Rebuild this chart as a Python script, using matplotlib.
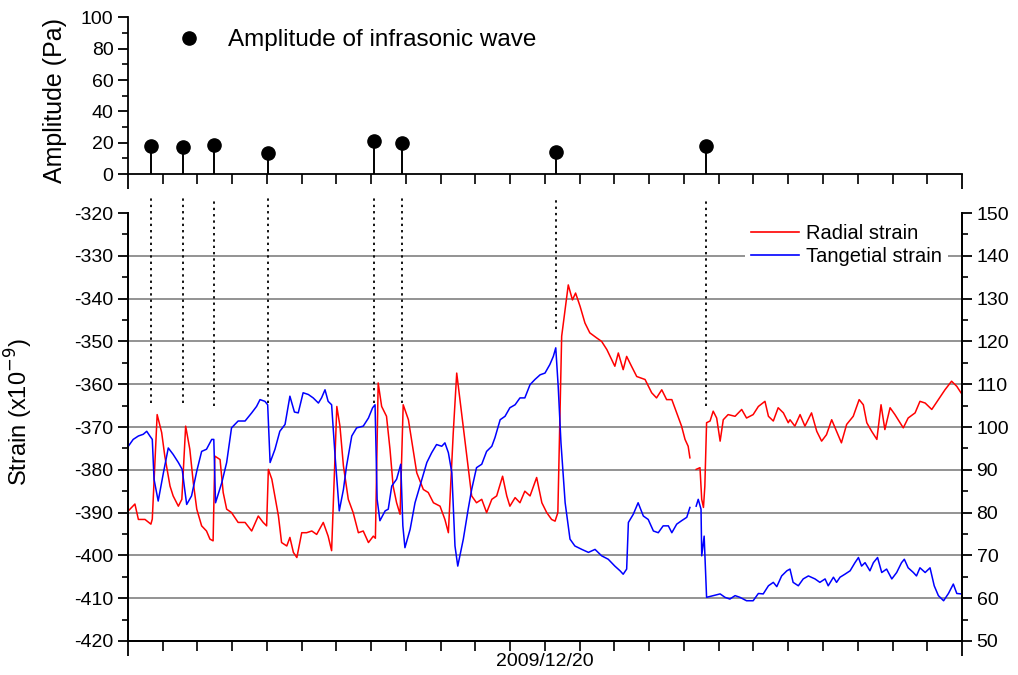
import numpy as np
import matplotlib
matplotlib.use("Agg")
import matplotlib.pyplot as plt
from matplotlib.lines import Line2D
from matplotlib.ticker import MultipleLocator, FixedLocator, FuncFormatter

plt.rcParams['font.family'] = ['Liberation Sans', 'DejaVu Sans']
plt.rcParams['axes.unicode_minus'] = False

# infrasound events (hours from start of record) and amplitudes in Pa
event_t = [0.66, 1.58, 2.47, 4.03, 7.08, 7.88, 12.32, 16.63]
event_amp = [18, 17.5, 18.5, 13.5, 21, 20, 14, 18]
# lower end of the dotted event markers in the strain panel
event_mark_end = [-364.5, -364.5, -365, -364.5, -364.5, -364.5, -347, -365]

# radial strain (left axis, x1e-9)
t_red = [0.01, 0.20, 0.30, 0.49, 0.66, 0.70, 0.84, 0.97, 1.06, 1.21, 1.30, 1.45, 1.55,
         1.66, 1.78, 1.88, 1.98, 2.12, 2.26, 2.36, 2.45, 2.50, 2.65, 2.74, 2.84, 2.98,
         3.17, 3.37, 3.56, 3.75, 3.89, 3.99, 4.04, 4.14, 4.33, 4.42, 4.57, 4.66, 4.76,
         4.86, 5.00, 5.14, 5.29, 5.43, 5.62, 5.76, 5.86, 6.01, 6.10, 6.20, 6.34, 6.48,
         6.63, 6.77, 6.92, 7.06, 7.12, 7.20, 7.30, 7.44, 7.54, 7.63, 7.73, 7.83, 7.92,
         8.07, 8.16, 8.31, 8.50, 8.64, 8.79, 8.98, 9.12, 9.22, 9.36, 9.46, 9.60, 9.75,
         9.89, 10.03, 10.18, 10.32, 10.47, 10.61, 10.78, 10.90, 10.99, 11.14, 11.28,
         11.42, 11.57, 11.76, 11.91, 12.05, 12.19, 12.29, 12.37, 12.48, 12.67, 12.79,
         12.88, 13.01, 13.15, 13.29, 13.49, 13.63, 13.78, 13.92, 14.01, 14.11, 14.25,
         14.35, 14.49, 14.64, 14.88, 15.07, 15.21, 15.36, 15.50, 15.65, 15.79, 15.93,
         16.03, 16.12, 16.17, 16.25, 16.35, 16.46, 16.51, 16.56, 16.60, 16.65, 16.75,
         16.84, 16.94, 17.04, 17.13, 17.27, 17.47, 17.66, 17.80, 17.99, 18.14, 18.33,
         18.43, 18.57, 18.71, 18.86, 19.00, 19.05, 19.19, 19.34, 19.48, 19.67, 19.82,
         19.96, 20.10, 20.25, 20.39, 20.53, 20.68, 20.87, 21.04, 21.16, 21.26, 21.40,
         21.55, 21.67, 21.78, 21.93, 22.07, 22.31, 22.45, 22.65, 22.79, 22.94, 23.13,
         23.32, 23.51, 23.70, 23.85, 23.97]
radial = [-389.6, -388.0, -391.6, -391.6, -392.7, -391.5, -367.1, -371.3, -376.8, -383.8,
          -386.1, -388.5, -386.9, -369.8, -375.2, -383.0, -389.2, -393.1, -394.3, -396.2,
          -396.6, -376.8, -377.6, -385.3, -389.2, -390.0, -392.3, -392.3, -394.3, -390.8,
          -392.3, -393.1, -379.9, -382.2, -390.8, -397.0, -397.8, -395.8, -399.3, -400.5,
          -394.7, -394.7, -394.3, -395.1, -392.3, -395.5, -398.9, -365.2, -369.8, -379.1,
          -386.9, -390.0, -394.7, -394.3, -397.0, -395.5, -396.0, -359.7, -365.2, -367.5,
          -375.2, -383.8, -387.7, -390.4, -364.8, -368.3, -372.9, -380.7, -384.6, -385.3,
          -387.7, -388.5, -391.6, -394.7, -371.4, -357.4, -366.7, -376.8, -386.1, -387.7,
          -386.9, -390.0, -386.9, -386.1, -381.5, -386.1, -388.5, -386.5, -387.7, -385.0,
          -386.1, -381.8, -387.7, -390.0, -391.6, -392.0, -390.0, -348.8, -336.8, -340.3,
          -338.7, -341.8, -345.7, -348.0, -349.2, -350.0, -351.9, -354.3, -355.8, -352.7,
          -356.6, -353.5, -355.8, -358.2, -358.9, -362.0, -363.2, -361.3, -363.6, -363.6,
          -366.7, -369.8, -372.9, -374.5, -377.2, np.nan, -379.9, -379.5, -386.9, -388.8,
          -383.8, -369.0, -368.6, -366.3, -367.9, -373.3, -368.3, -367.1, -367.5, -365.9,
          -367.9, -367.1, -365.2, -364.0, -367.5, -368.6, -365.5, -366.7, -369.0, -368.3,
          -369.8, -367.1, -369.8, -366.7, -371.0, -373.3, -371.8, -368.3, -371.0, -373.7,
          -369.4, -367.5, -363.6, -364.8, -369.0, -371.0, -372.9, -364.8, -370.6, -365.5,
          -367.1, -370.2, -367.9, -366.7, -364.0, -364.4, -365.9, -363.6, -361.3, -359.3,
          -360.5, -362.0]

# tangential strain (right axis)
t_blue = [0.01, 0.15, 0.30, 0.44, 0.54, 0.63, 0.70, 0.75, 0.87, 1.02, 1.16, 1.30, 1.45,
          1.56, 1.62, 1.69, 1.83, 1.98, 2.12, 2.26, 2.41, 2.47, 2.52, 2.70, 2.84, 2.98,
          3.17, 3.37, 3.56, 3.70, 3.80, 3.94, 4.02, 4.09, 4.23, 4.37, 4.52, 4.66, 4.79,
          4.90, 5.04, 5.19, 5.33, 5.48, 5.57, 5.67, 5.76, 5.86, 5.96, 6.08, 6.20, 6.29,
          6.44, 6.58, 6.77, 6.92, 7.04, 7.11, 7.17, 7.25, 7.40, 7.49, 7.59, 7.73, 7.85,
          7.91, 7.97, 8.12, 8.26, 8.40, 8.60, 8.74, 8.88, 9.03, 9.12, 9.22, 9.32, 9.41,
          9.49, 9.65, 9.79, 9.89, 10.03, 10.18, 10.32, 10.47, 10.56, 10.71, 10.85, 10.99,
          11.14, 11.28, 11.42, 11.57, 11.71, 11.86, 12.00, 12.14, 12.24, 12.31, 12.38,
          12.46, 12.58, 12.72, 12.86, 13.06, 13.25, 13.44, 13.63, 13.82, 14.01, 14.16,
          14.25, 14.35, 14.40, 14.54, 14.68, 14.83, 14.97, 15.12, 15.26, 15.40, 15.55,
          15.65, 15.79, 15.93, 16.08, 16.17, 16.25, 16.35, 16.41, 16.49, 16.51, 16.58,
          16.65, 16.84, 17.04, 17.18, 17.32, 17.47, 17.61, 17.80, 17.99, 18.14, 18.28,
          18.43, 18.57, 18.67, 18.81, 18.96, 19.05, 19.14, 19.29, 19.43, 19.58, 19.77,
          19.91, 20.06, 20.15, 20.30, 20.39, 20.49, 20.63, 20.78, 20.92, 21.02, 21.11,
          21.21, 21.35, 21.45, 21.57, 21.69, 21.83, 21.98, 22.12, 22.26, 22.34, 22.45,
          22.60, 22.69, 22.79, 22.94, 23.08, 23.20, 23.32, 23.47, 23.61, 23.75, 23.85,
          23.97]
tangential = [95.5, 97.1, 97.9, 98.3, 99.0, 97.9, 97.1, 87.8, 82.7, 89.3, 95.1, 93.6, 91.7,
              90.1, 86.2, 81.9, 83.9, 89.7, 94.3, 94.8, 97.1, 97.1, 82.3, 87.0, 91.7, 99.8,
              101.4, 101.4, 103.3, 104.8, 106.4, 106.0, 105.2, 91.7, 94.8, 99.0, 100.6,
              107.2, 103.5, 103.3, 108.0, 107.6, 106.8, 105.6, 106.8, 108.7, 106.0, 105.2,
              93.2, 80.4, 85.4, 90.9, 97.9, 99.8, 100.2, 102.1, 104.5, 105.2, 83.1, 78.1,
              80.4, 80.8, 86.2, 87.8, 91.3, 76.9, 71.8, 76.1, 82.3, 86.2, 91.7, 94.0, 95.9,
              95.5, 96.3, 94.0, 89.3, 72.2, 67.5, 73.8, 80.8, 85.4, 90.5, 91.3, 94.3, 95.5,
              97.5, 101.7, 102.5, 104.5, 105.2, 106.8, 106.8, 109.9, 111.1, 112.2, 112.6,
              114.6, 116.5, 118.5, 109.5, 96.3, 82.3, 73.8, 72.2, 71.4, 70.7, 71.4, 69.9,
              69.1, 67.5, 66.4, 65.6, 66.8, 77.7, 79.6, 82.3, 79.2, 78.4, 75.7, 75.3, 76.9,
              76.9, 75.3, 77.3, 78.1, 78.9, 81.2, np.nan, 81.5, 83.1, 80.8, 69.9, 74.5,
              60.2, 60.6, 61.0, 60.2, 59.8, 60.6, 60.2, 59.4, 59.4, 61.1, 61.0, 62.9, 63.7,
              62.7, 65.2, 66.4, 66.8, 63.7, 62.9, 64.5, 65.2, 64.5, 63.7, 64.5, 62.9, 64.9,
              63.7, 64.9, 65.6, 66.4, 68.3, 69.5, 67.5, 68.3, 66.4, 68.3, 69.5, 66.0, 66.8,
              64.5, 66.0, 68.3, 69.1, 67.1, 66.0, 65.2, 67.1, 66.0, 67.1, 62.9, 60.6, 59.4,
              61.1, 63.3, 61.1, 61.0]

strain_grid = [-410, -400, -390, -380, -370, -360, -350, -340, -330]

fig = plt.figure(figsize=(10.18, 6.75), dpi=100)
ax_top = fig.add_axes([0.1257, 0.7422, 0.8193, 0.2319])
ax = fig.add_axes([0.1257, 0.0504, 0.8193, 0.634], sharex=ax_top)
ax2 = ax.twinx()

# ---- amplitude panel
markerline, stemlines, baseline = ax_top.stem(event_t, event_amp, linefmt='k-',
                                              markerfmt='ko', basefmt=' ')
markerline.set_markersize(9.5)
stemlines.set_linewidth(1.4)
ax_top.set_ylim(0, 100)
ax_top.set_xlim(0, 24)
ax_top.spines['top'].set_visible(False)
ax_top.spines['right'].set_visible(False)
ax_top.yaxis.set_major_locator(MultipleLocator(20))
ax_top.yaxis.set_minor_locator(MultipleLocator(10))
ax_top.set_ylabel("Amplitude (Pa)", fontsize=18)
ax_top.yaxis.set_label_coords(-0.073, 0.47)
proxy = Line2D([], [], marker='o', ls='none', color='k', markersize=9.5)
ax_top.legend([proxy], ["Amplitude of infrasonic wave"], loc='upper left',
              bbox_to_anchor=(0.018, 1.065), frameon=False, fontsize=17.5,
              handletextpad=0.6)

# ---- strain panel
for g in strain_grid:
    ax.axhline(g, color='#8a8a8a', lw=1.3, zorder=0)
ax.plot(t_red, radial, color='#ff0000', lw=1.1)
ax2.plot(t_blue, tangential, color='#0000ff', lw=1.1)
ax.vlines(event_t, event_mark_end, -316.5, colors='k', linestyles=(0, (1.3, 2.2)),
          lw=1.3, clip_on=False)

ax.set_ylim(-420, -320)
ax2.set_ylim(50, 150)
ax.set_xlim(0, 24)
ax.spines['top'].set_visible(False)
ax2.spines['top'].set_visible(False)
ax.yaxis.set_major_locator(MultipleLocator(10))
ax.yaxis.set_minor_locator(MultipleLocator(5))
ax2.yaxis.set_major_locator(MultipleLocator(10))
ax2.yaxis.set_minor_locator(MultipleLocator(5))
ax.set_ylabel("Strain (x10$^{-9}$)", fontsize=17)
ax.yaxis.set_label_coords(-0.112, 0.535)

# hourly ticks, date label at the middle
ax.xaxis.set_major_locator(FixedLocator([0, 24]))
ax.xaxis.set_minor_locator(FixedLocator(list(range(1, 24))))
ax.xaxis.set_major_formatter(FuncFormatter(lambda v, p: ''))
ax.xaxis.set_minor_formatter(FuncFormatter(lambda v, p: '2009/12/20' if v == 12 else ''))

for a in (ax_top, ax, ax2):
    for s in a.spines.values():
        s.set_linewidth(1.3)
    a.tick_params(which='major', direction='out', length=7, width=1.3, labelsize=14)
    a.tick_params(which='minor', direction='out', length=4, width=1.2, labelsize=14)
ax_top.tick_params(axis='x', which='major', length=11)
ax_top.tick_params(axis='x', which='minor', length=7)
ax_top.tick_params(axis='x', which='both', labelbottom=False)
ax.tick_params(axis='x', which='major', length=11)
ax.tick_params(axis='x', which='minor', length=7, pad=2)

handles = [Line2D([], [], color='#ff0000', lw=1.2), Line2D([], [], color='#0000ff', lw=1.2)]
leg = ax2.legend(handles, ["Radial strain", "Tangetial strain"], loc='upper right',
                 bbox_to_anchor=(0.995, 1.012), fontsize=14.5, frameon=True,
                 facecolor='white', edgecolor='none', framealpha=1, fancybox=False,
                 handlelength=2.35, handletextpad=0.35, labelspacing=0.2, borderpad=0.3)

fig.savefig("out.png", dpi=100)
